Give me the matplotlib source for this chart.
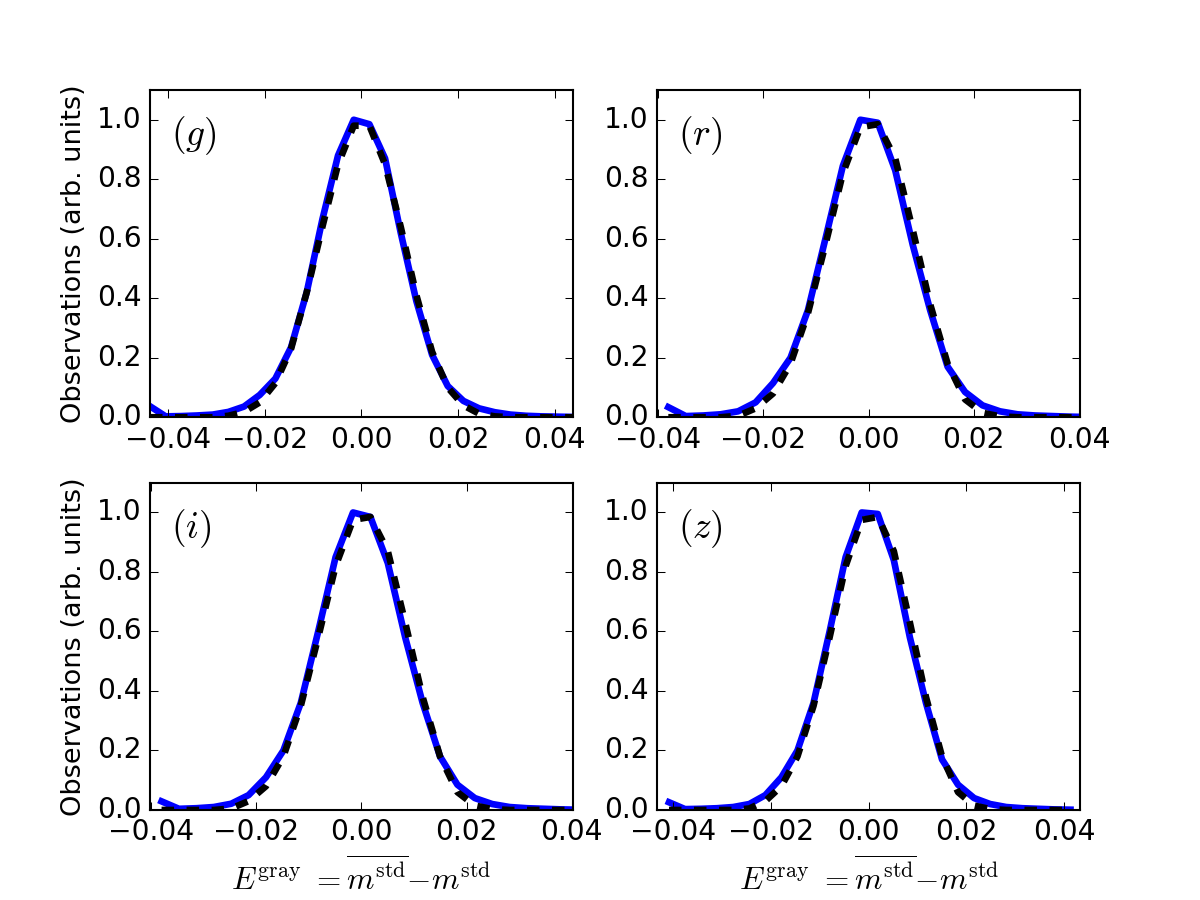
import matplotlib
matplotlib.use("Agg")
import matplotlib.pyplot as plt
import numpy as np

plt.style.use('classic')
plt.rcParams['xtick.labelsize'] = 13.5
plt.rcParams['ytick.labelsize'] = 13.5

# bin grid for each band: first bin centre, bin step
bands = ['g', 'r', 'i', 'z']
x_start = {'g': -0.0437, 'r': -0.0381, 'i': -0.0380, 'z': -0.0409}
x_step = {'g': 0.00324, 'r': 0.00332, 'i': 0.00331, 'z': 0.00329}
x_lim = {'g': 0.0437, 'r': 0.0402, 'i': 0.0402, 'z': 0.0433}

obs_g = [0.037, 0.003, 0.004, 0.006, 0.009, 0.018, 0.036, 0.075, 0.13, 0.235,
         0.42, 0.665, 0.88, 1.0, 0.985, 0.87, 0.62, 0.39, 0.21, 0.105,
         0.055, 0.03, 0.017, 0.009, 0.005, 0.003, 0.002, 0.001]
obs_r = [0.034, 0.004, 0.006, 0.010, 0.020, 0.050, 0.115, 0.20, 0.36, 0.60,
         0.845, 1.0, 0.99, 0.83, 0.58, 0.36, 0.17, 0.085, 0.04, 0.02,
         0.01, 0.006, 0.004, 0.002, 0.001]
obs_i = [0.029, 0.004, 0.006, 0.010, 0.021, 0.050, 0.11, 0.20, 0.36, 0.60,
         0.85, 1.0, 0.985, 0.83, 0.58, 0.36, 0.18, 0.085, 0.04, 0.02,
         0.01, 0.006, 0.004, 0.002, 0.001]
obs_z = [0.026, 0.003, 0.004, 0.006, 0.010, 0.020, 0.050, 0.11, 0.20, 0.36,
         0.60, 0.85, 1.0, 0.995, 0.84, 0.58, 0.36, 0.17, 0.085, 0.04,
         0.02, 0.01, 0.006, 0.004, 0.002, 0.001]

# gaussian fits (dashed) at the same bins
fit_g = [0.0, 0.0, 0.0, 0.0, 0.0, 0.005, 0.018, 0.05, 0.115, 0.23,
         0.42, 0.64, 0.85, 0.98, 0.98, 0.85, 0.64, 0.41, 0.22, 0.10,
         0.04, 0.012, 0.003, 0.0, 0.0, 0.0, 0.0, 0.0]
fit_r = [0.0, 0.0, 0.0, 0.0, 0.005, 0.03, 0.08, 0.18, 0.35, 0.58,
         0.82, 0.975, 0.985, 0.87, 0.63, 0.38, 0.18, 0.06, 0.015, 0.003,
         0.0, 0.0, 0.0, 0.0, 0.0]
fit_i = [0.0, 0.0, 0.0, 0.0, 0.005, 0.03, 0.08, 0.18, 0.35, 0.58,
         0.82, 0.975, 0.985, 0.87, 0.63, 0.38, 0.18, 0.06, 0.015, 0.003,
         0.0, 0.0, 0.0, 0.0, 0.0]
fit_z = [0.0, 0.0, 0.0, 0.0, 0.0, 0.005, 0.03, 0.08, 0.18, 0.35,
         0.58, 0.82, 0.975, 0.985, 0.87, 0.63, 0.38, 0.18, 0.06, 0.015,
         0.003, 0.0, 0.0, 0.0, 0.0, 0.0]

observed = {'g': obs_g, 'r': obs_r, 'i': obs_i, 'z': obs_z}
fitted = {'g': fit_g, 'r': fit_r, 'i': fit_i, 'z': fit_z}

yticks = [0.0, 0.2, 0.4, 0.6, 0.8, 1.0]
xticks = [-0.04, -0.02, 0.0, 0.02, 0.04]

fig, axes = plt.subplots(2, 2, figsize=(8, 6))

for ax, band in zip(axes.flat, bands):
    n = len(observed[band])
    x = x_start[band] + x_step[band] * np.arange(n)
    ax.plot(x, observed[band], color='blue', lw=3.2, ls='-')
    ax.plot(x, fitted[band], color='black', lw=3.2, ls='--')
    ax.set_xlim(-x_lim[band], x_lim[band])
    ax.set_ylim(0, 1.1)
    ax.set_xticks(xticks)
    ax.set_yticks(yticks)
    ax.text(0.05, 0.86, r'$(%s)$' % band, transform=ax.transAxes,
            fontsize=18, va='center', ha='left')

for ax in axes[:, 0]:
    ax.set_ylabel('Observations (arb. units)', fontsize=13)
for ax in axes[1, :]:
    ax.set_xlabel(r'$E^{\rm gray}\ {=}\overline{m^{\rm std}}{-}m^{\rm std}$',
                  fontsize=15)

fig.savefig('out.png', dpi=150, facecolor='white')
